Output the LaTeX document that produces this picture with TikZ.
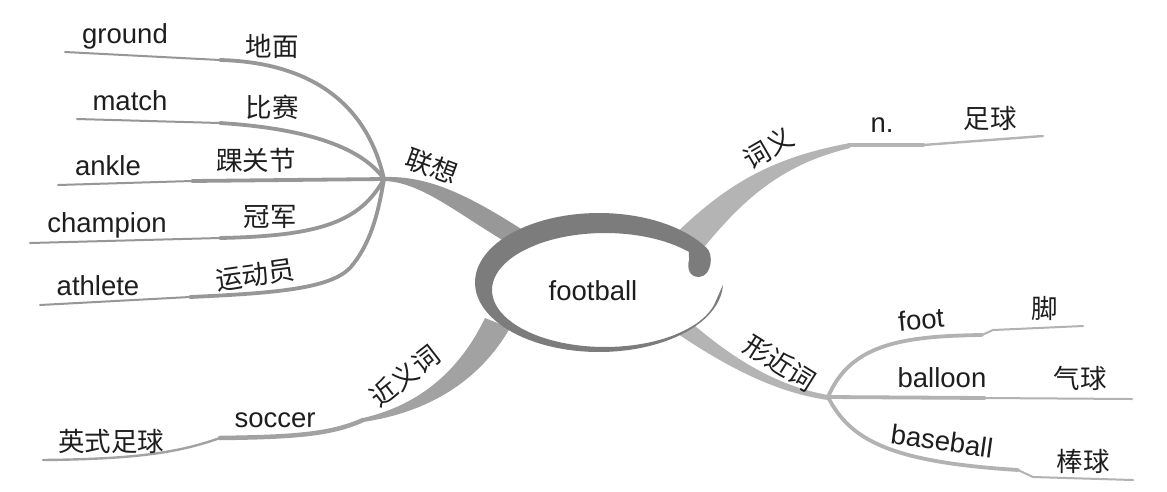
\documentclass[tikz,border=0pt]{standalone}
\usepackage{fontspec}
\setmainfont{Liberation Sans}
\newfontfamily\cjk{Noto Sans CJK SC}
\definecolor{ringc}{HTML}{7C7C7C}
\definecolor{brL}{HTML}{989898}
\definecolor{brSyn}{HTML}{A2A2A2}
\definecolor{brR}{HTML}{B4B4B4}
\definecolor{leafL}{HTML}{979797}
\definecolor{leafR}{HTML}{B2B2B2}
\definecolor{txt}{HTML}{1E1E1E}
\tikzset{
  en/.style={font=\fontsize{27.5}{31}\selectfont, text=txt, inner sep=0pt, anchor=base},
  zh/.style={font=\cjk\fontsize{26.5}{29}\selectfont, text=txt, inner sep=0pt},
  thickL/.style={draw=leafL, line width=3.8pt, line cap=round},
  thinL/.style={draw=leafL, line width=2pt, line cap=round},
  thickR/.style={draw=leafR, line width=3.8pt, line cap=round},
  thinR/.style={draw=leafR, line width=2pt, line cap=round},
}
\begin{document}
\begin{tikzpicture}[x=1pt,y=-1pt]
\useasboundingbox[fill=white] (0,0) rectangle (1167,491);

% ---------- hubs and leaf end points ----------
\coordinate (hubL) at (384,179);
\coordinate (hubR) at (828,397);
\coordinate (gK) at (220,60);   \coordinate (gE) at (65,52);
\coordinate (mK) at (220,123);  \coordinate (mE) at (77,119);
\coordinate (aK) at (192,181);  \coordinate (aE) at (58,185);
\coordinate (cK) at (220,238);  \coordinate (cE) at (30,243);
\coordinate (tK) at (190,297);  \coordinate (tE) at (40,305);
\coordinate (fK) at (982,335);  \coordinate (fE) at (1083,326);
\coordinate (bK) at (985,398);  \coordinate (bE) at (1132,399);
\coordinate (sK) at (1018,470); \coordinate (sE) at (1133,480);
\coordinate (nA) at (850,145);  \coordinate (nK) at (923,145); \coordinate (nE) at (1043,136);
\coordinate (yA) at (363,420);  \coordinate (yK) at (220,438); \coordinate (yE) at (43,460);

% ---------- main branches (tapered) ----------
% 联想
\fill[brL] (384,177) .. controls (425,176) and (462,190) .. (532,236)
  -- (542,262) .. controls (470,226) and (428,182) .. (384,181) -- cycle;
% 词义
\fill[brR] (655,255) .. controls (720,185) and (770,158) .. (850,143)
  -- (850,148) .. controls (780,165) and (740,200) .. (690,265) -- cycle;
% 形近词
\fill[brR] (675,308) .. controls (720,350) and (770,385) .. (828,395)
  -- (828,400) .. controls (770,392) and (715,360) .. (665,325) -- cycle;
% 近义词
\fill[brSyn] (485,318) .. controls (460,370) and (420,405) .. (363,418)
  -- (363,422) .. controls (430,412) and (480,380) .. (510,328) -- cycle;

% ---------- left leaves ----------
\draw[thickL] (hubL) .. controls (365,95) and (300,62) .. (gK);
\draw[thinL] (gK) -- (gE);
\draw[thickL] (hubL) .. controls (360,145) and (300,128) .. (mK);
\draw[thinL] (mK) -- (mE);
\draw[thickL] (hubL) -- (aK);
\draw[thinL] (aK) -- (aE);
\draw[thickL] (hubL) .. controls (360,222) and (320,236) .. (cK);
\draw[thinL] (cK) -- (cE);
\draw[thickL] (hubL) .. controls (378,215) and (370,245) .. (350,268)
  .. controls (330,288) and (280,293) .. (tK);
\draw[thinL] (tK) -- (tE);

% ---------- 词义 leaf ----------
\draw[draw=brR, line width=4.5pt, line cap=round] (nA) -- (nK);
\draw[draw=brR, line width=2.4pt, line cap=round] (nK) -- (nE);

% ---------- 近义词 leaf ----------
\draw[draw=brSyn, line width=4.5pt, line cap=round] (yA) .. controls (330,435) and (290,437) .. (yK);
\draw[draw=brSyn, line width=2.4pt, line cap=round] (yK) .. controls (180,452) and (140,459) .. (yE);

% ---------- right leaves ----------
\draw[thickR] (hubR) .. controls (850,345) and (900,336) .. (fK);
\draw[thinR] (fK) -- (993,330) -- (fE);
\draw[thickR] (hubR) -- (bK);
\draw[thinR] (bK) -- (bE);
\draw[thickR] (hubR) .. controls (850,440) and (890,462) .. (sK);
\draw[thinR] (sK) -- (1033,477) -- (sE);

% ---------- central swirl ----------
\fill[white] (605,290) ellipse [x radius=113pt, y radius=57pt];
\fill[ringc]
  plot[domain=2:330, samples=100, variable=\t] ({599+124*cos(\t)},{282.5+69.5*sin(\t)})
  .. controls (714,254) and (712,276) .. (699,277)
  .. controls (689,277) and (687,268) .. (689,260)
  -- plot[domain=318:15, samples=100, variable=\t] ({605+113*cos(\t)},{290+57*sin(\t)})
  -- cycle;

% ---------- texts ----------
\node[en] (center) at (593,300) {football};

\node[zh, rotate=-20] (lianxiang) at (432,166) {联想};
\node[en] (ground) at (125,43) {ground};
\node[zh] (dimian) at (272,46) {地面};
\node[en] (match) at (130,110) {match};
\node[zh] (bisai) at (272,107) {比赛};
\node[en] (ankle) at (108,175) {ankle};
\node[zh] (huaiguanjie) at (256,160) {踝关节};
\node[en] (champion) at (107,232) {champion};
\node[zh] (guanjun) at (270,217) {冠军};
\node[en] (athlete) at (98,295) {athlete};
\node[zh, rotate=8] (yundongyuan) at (255,275) {运动员};

\node[zh, rotate=30] (ciyi) at (768,148) {词义};
\node[en] (n) at (882,132) {n.};
\node[zh] (zuqiu) at (990,118) {足球};

\node[zh, rotate=-32] (xingjinci) at (780,363) {形近词};
\node[en, rotate=5] (foot) at (922,329) {foot};
\node[zh] (jiao) at (1045,308) {脚};
\node[en] (balloon) at (942,387) {balloon};
\node[zh] (qiqiu) at (1080,378) {气球};
\node[en, rotate=-8, anchor=center] (baseball) at (942,441) {baseball};
\node[zh] (bangqiu) at (1083,461) {棒球};

\node[zh, rotate=38] (jinyici) at (405,376) {近义词};
\node[en] (soccer) at (275,427) {soccer};
\node[zh] (yingshi) at (111,441) {英式足球};
\end{tikzpicture}
\end{document}
